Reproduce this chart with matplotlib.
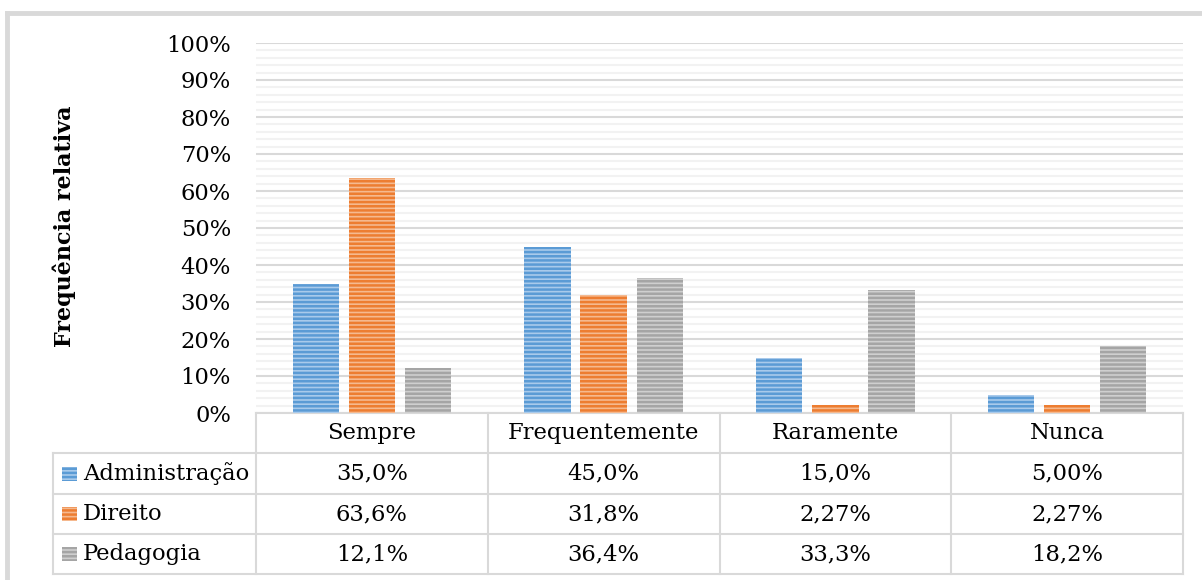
import numpy as np
import matplotlib.pyplot as plt
from matplotlib.patches import Rectangle

# Dados (frequência relativa, %)
categorias = ['Sempre', 'Frequentemente', 'Raramente', 'Nunca']
cursos = ['Administração', 'Direito', 'Pedagogia']
administracao = [35.0, 45.0, 15.0, 5.00]
direito = [63.6, 31.8, 2.27, 2.27]
pedagogia = [12.1, 36.4, 33.3, 18.2]
series = [administracao, direito, pedagogia]
yticks = list(range(0, 101, 10))
ytick_labels = [f'{t}%' for t in yticks]

cores = ['#5B9BD5', '#ED7D31', '#A5A5A5']
cores_claras = ['#A9CAEB', '#F5B98F', '#CFCFCF']

plt.rcParams['font.family'] = ['DejaVu Serif']
plt.rcParams['hatch.linewidth'] = 1.8

W, H = 1202, 580
L, R, B, T = 256, 1183, 413, 43
linhas = [413, 453, 494, 534, 574]
esq_tabela = 53
cinza = '#D9D9D9'
fs = 16.3


def fmt(v):
    s = f'{v:.1f}' if v >= 10 else f'{v:.2f}'
    return s.replace('.', ',') + '%'


fig = plt.figure(figsize=(W / 100, H / 100), dpi=100)
ax = fig.add_axes([L / W, (H - B) / H, (R - L) / W, (B - T) / H])

x = np.arange(len(categorias))
largura = 0.2
passo = 0.242
for i, vals in enumerate(series):
    ax.bar(x + (i - 1) * passo, vals, largura, facecolor=cores_claras[i],
           edgecolor=cores[i], linewidth=0, hatch='----', zorder=3)

ax.set_xlim(-0.5, len(categorias) - 0.5)
ax.set_ylim(0, 100)
ax.set_yticks(yticks)
ax.set_yticklabels(ytick_labels, fontsize=fs)
ax.set_yticks(np.arange(0, 101, 2), minor=True)
ax.tick_params(axis='y', which='both', length=0, pad=18)
ax.set_xticks([])
ax.grid(axis='y', which='major', color=cinza, linewidth=1.5, zorder=0)
ax.grid(axis='y', which='minor', color='#F2F2F2', linewidth=1.5, zorder=0)
for lado in ['left', 'right', 'top']:
    ax.spines[lado].set_visible(False)
ax.spines['bottom'].set_color(cinza)
ax.spines['bottom'].set_linewidth(1.5)

# camada em pixels para a tabela e a moldura
ov = fig.add_axes([0, 0, 1, 1])
ov.set_xlim(0, W)
ov.set_ylim(H, 0)
ov.axis('off')

# moldura do gráfico (só a esquerda e o topo aparecem)
ov.plot([7, 7], [13, H], color=cinza, linewidth=3.5)
ov.plot([7, W], [13, 13], color=cinza, linewidth=3.5)

# grade da tabela
col_w = (R - L) / len(categorias)
for y in linhas[1:]:
    ov.plot([esq_tabela, R], [y, y], color=cinza, linewidth=1.5)
ov.plot([esq_tabela, esq_tabela], [linhas[1], linhas[-1]], color=cinza, linewidth=1.5)
for j in range(len(categorias) + 1):
    xv = L + j * col_w
    ov.plot([xv, xv], [linhas[0], linhas[-1]], color=cinza, linewidth=1.5)

for j, cat in enumerate(categorias):
    xc = L + (j + 0.5) * col_w
    ov.text(xc, (linhas[0] + linhas[1]) / 2, cat, ha='center', va='center', fontsize=fs)
    for i, vals in enumerate(series):
        yc = (linhas[i + 1] + linhas[i + 2]) / 2
        ov.text(xc, yc, fmt(vals[j]), ha='center', va='center', fontsize=fs)

for i, nome in enumerate(cursos):
    yc = (linhas[i + 1] + linhas[i + 2]) / 2
    ov.add_patch(Rectangle((62, yc - 7), 15, 14, facecolor=cores_claras[i],
                           edgecolor=cores[i], linewidth=0, hatch='----'))
    ov.text(83, yc, nome, ha='left', va='center', fontsize=fs)

fig.text(64 / W, 1 - 226 / H, 'Frequência relativa', rotation=90, ha='center',
         va='center', fontsize=16, fontweight='bold')

fig.savefig('out.png', dpi=100)
